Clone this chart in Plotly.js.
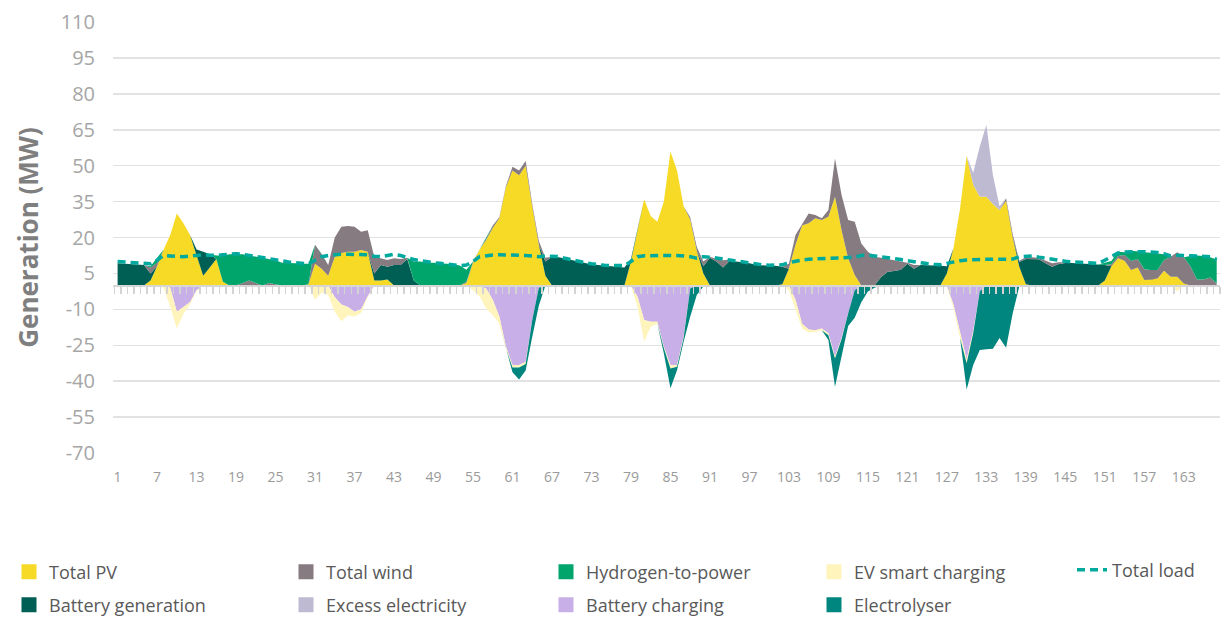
<!DOCTYPE html>
<html><head><meta charset="utf-8">
<script src="https://cdn.plot.ly/plotly-3.0.1.min.js"></script>
<style>html,body{margin:0;padding:0;background:#fff}#chart{width:1225px;height:618px}</style>
</head><body><div id="chart"></div>
<script>
// hour categories 1..168
const hours = [];
for (let i = 1; i <= 168; i++) hours.push(i);

// y-axis tick labels (plain hyphen minus as in the reference)
const yTickVals = [110, 95, 80, 65, 50, 35, 20, 5, -10, -25, -40, -55, -70];
const yTickText = ['110','95','80','65','50','35','20','5','-10','-25','-40','-55','-70'];

// Positive generation (MW), one row per day of 24 hours
const totalPV = [
 0,0,0,0,0,2,8,15,21,30,26,21,12,4,7.5,11,1.5,0,0,0,0,0,0,0,
 0,0,0,0,0,0.5,9,7,4,12,13.5,14,14,14.8,14,2,2,2.5,0,0,0,0,0,0,
 0,0,0,0,0,1,9.5,15,19,24,28,41,48,46,50,33,17,4,0,0,0,0,0,0,
 0,0,0,0,0,0,10,23,36,29,26.6,35,55.8,48,33,27.5,14.5,5,0,0,0,0,0,0,
 0,0,0,0,0,0.5,7,17,25,26,28,27.3,28.7,37,23,11.3,4.3,0,0,0,0,0,0,0,
 0,0,0,0,0,0,5,15.5,32,54,42,37,37,34,31.5,35.4,20,7.8,0.5,0,0,0,0,0,
 0,0,0,0,0,0,2,8,11.3,10.3,6.4,7.5,2.2,2.5,2.9,6.1,3.6,3.6,0.8,0,0,0,0,0
];
const batteryGen = [
 9.2,9,9,8.7,8.5,3,0,0,0,0,0,0,3,10,5.5,0,0,0,0,0,0,0,0,0,
 0,0,0,0,0,0,0,0,0,0,0,0,0,0,0,3,6.5,5.3,8.5,8.5,11,2,0,0,
 0,0,0,0,0,0,0,0,0,0,0,0,0,0,0,0,0,6,12,11.8,11.3,10.6,9.9,9.2,
 8.8,8.5,8.2,8,7.8,7.5,1,0,0,0,0,0,0,0,0,0,0,3,11.5,10,7.5,10.3,10,9.7,
 9.2,8.6,8.3,8.2,8.2,7.3,0,0,0,0,0,0,0,0,0,0,0,0,0,0,3.5,5.7,6,6.5,
 9,7,8.5,8.5,8.4,8.2,3,0,0,0,0,0,0,0,0,0,0,2,10.5,11,10.9,9.2,7.8,8.9,
 9.4,9.3,9.2,9,8.8,8.7,6.5,0,0,0,0,0,0,0,0,0,0,0,0,0,0,0,0,0
];
const totalWind = [
 0,0,0,0,0,2.5,1.5,0,0,0,0,0,0,0,0,0,0,0,0,1,2,1,0,1,
 0.5,0,0,0,0,0,8,6,4.5,8,11,10.8,10.5,7.6,9,7,2.8,2.8,2.8,2.5,0.5,0,0,0,
 0,0,0,0,0,0.5,0.5,0,0.5,1,0.5,0.5,1.5,2,2,1,1.5,1.5,0,0,0,0,0,0,
 0,0,0,0,0,0,0,0,0,0,0,0,0,0,0,1,1.5,2,0.5,1,3,0.5,0,0,
 0,0,0,0,0,0,2,4,0.8,4,1.4,0.7,2.8,16,14.7,16,22.3,17.5,14,12,8,5.4,4.5,3.5,
 0.5,1.5,0,0,0,0,0,0,0,0,0,0,0,0,0,1,1.5,0.5,0.7,0.8,0.5,1.1,1.4,0.8,
 0.3,0,0,0,0,0,0,0.8,1,2.4,3.8,3.5,4.5,3.9,3.5,4.5,8.4,10.2,10.9,8,2.5,2.5,3.3,0.8
];
const hydrogenToPower = [
 0,0,0,0,0,0.5,2,0,0,0,0,0,0,0,0,1.5,11,13,13,12,10.5,11,11.5,10,
 10,9.5,9.5,9.2,9,8.5,0,0,0,0,0,0,0,0,0,0,0,0,0,0,0,8,10,9.5,
 9.5,9.3,9.2,8.8,8.3,5,0,0,0,0,0,0,0,0,0,0,0,0,0,0,0,0,0,0,
 0,0,0,0,0,0,0,0,0,0,0,0,0,0,0,0,0,0,0,0,0,0,0,0,
 0,0,0,0,0,0,0,0,0,0,0,0,0,0,0,0,0,0,0,0,0,0,0,0,
 0,0,0,0,0,0,0,0,0,0,0,0,0,0,0,0,0,0,0,0,0,0,0,0,
 0,0,0,0,0,0,1,1.4,1.7,1.1,4.3,3.2,7.2,7.4,7,2.4,0,0,0,4.3,10,9.8,8.4,10
];
const excessElectricity = [
 0,0,0,0,0,0,0,0,0,0,0,0,0,0,0,0,0,0,0,0,0,0,0,0,
 0,0,0,0,0,0,0,0,0,0,0,0,0,0,0,0,0,0,0,0,0,0,0,0,
 0,0,0,0,0,0,0,0,0,0,0,0,0,0,0,0,0,0,0,0,0,0,0,0,
 0,0,0,0,0,0,0,0,0,0,0,0,0,0,0,0,0,0,0,0,0,0,0,0,
 0,0,0,0,0,0,0,0,0,0,0,0,0,0,0,0,0,0,0,0,0,0,0,0,
 0,0,0,0,0,0,0,0,0,0,5,21,30,12,1.5,0,0,0,0,0,0,0,0,0,
 0,0,0,0,0,0,0,0,0,0,0,0,0,0,0,0,0,0,0,0,0,0,0,0
];
// Consumption (negative MW)
const batteryCharging = [
 0,0,0,0,0,0,0,0,-1,-11,-9,-7,-2,0,0,0,0,0,0,0,0,0,0,0,
 0,0,0,0,0,0,0,0,0,-5,-8,-9,-11,-10,-4.5,0,0,0,0,0,0,0,0,0,
 0,0,0,0,0,0,0,0,-1.3,-6,-13,-25.5,-33.3,-33.3,-32,-14.5,-1,0,0,0,0,0,0,0,
 0,0,0,0,0,0,0,-4.7,-14.5,-15.2,-15.2,-25.6,-33.3,-33.3,-21.4,-1.3,0,0,0,0,0,0,0,0,
 0,0,0,0,0,0,0,-6,-16,-18.4,-18.7,-18,-20,-29.8,-22,-11.7,-2,0,0,0,0,0,0,0,
 0,0,0,0,0,0,0,-8,-20,-31,-19,-2.5,0,0,0,0,0,0,0,0,0,0,0,0,
 0,0,0,0,0,0,0,0,0,0,0,0,0,0,0,0,0,0,0,0,0,0,0,0
];
const evSmartCharging = [
 0,0,0,0,0,0,0,-1,-8,-7,-3,-1,-0.5,0,0,0,0,0,0,0,0,0,0,0,
 0,0,0,0,0,0,-6,-3,-4,-6,-7,-3.5,-2,-1.5,-0.5,0,0,0,0,0,0,0,0,0,
 0,0,0,0,0,0,-2,-4.5,-8.3,-6.4,-3,-0.8,-1,-1,-0.8,0,0,0,0,0,0,0,0,0,
 0,0,0,0,0,0,-0.5,-4.2,-9,-2.1,-0.8,-0.7,-1.4,-0.7,-0.6,0,0,0,0,0,0,0,0,0,
 0,0,0,0,0,0,-2,-4,-2,-1.2,-0.8,-0.7,-0.8,-0.7,-0.5,0,0,0,0,0,0,0,0,0,
 0,0,0,0,0,0,-0.5,-1.5,-2,-1.5,-1,0,0,0,0,0,0,0,0,0,0,0,0,0,
 0,0,0,0,0,0,0,0,0,0,0,0,0,0,0,0,0,-2.5,0,0,0,0,0,0
];
const electrolyser = [
 0,0,0,0,0,0,0,0,0,0,0,0,0,0,0,0,0,0,0,0,0,0,0,0,
 0,0,0,0,0,0,0,0,0,0,0,0,0,0,0,0,0,0,0,0,0,0,0,0,
 0,0,0,0,0,0,0,0,0,0,0,0,-2,-5,-2.7,-7,-7.5,0,0,0,0,0,0,0,
 0,0,0,0,0,0,0,0,0,0,0,-2.1,-8.3,-1.4,-1.5,-11.8,-4,-0.5,0,0,0,0,0,0,
 0,0,0,0,0,0,0,0,0,0,0,0,-2,-11.8,-7.3,-5.3,-11.5,-7,-2.6,-1,0,0,0,0,
 0,0,0,0,0,0,0,0,0,-11,-13.3,-24.5,-26.7,-26.5,-22,-26,-11.7,-0.5,0,0,0,0,0,0,
 0,0,0,0,0,0,0,0,0,0,0,0,0,0,0,0,0,0,0,0,0,0,0,0
];
const totalLoad = [
 10,9.8,9.6,9.4,9.3,9,10.5,12.5,12.3,12,12,12.2,12.6,12.8,12.6,12.5,12.8,13,13.2,13,12.5,12,11.5,11,
 10.5,10.2,9.8,9.5,9.2,9,10.5,12,12.5,12.8,13,13,13,13,12.8,12.2,12,12.5,13,12.5,11.5,10.8,10.3,9.8,
 9.5,9.2,9,8.7,8.3,8.5,10,12,12.5,12.7,12.8,12.8,12.8,12.7,12.5,12.3,12,12.3,12.3,12,11.3,10.6,10,9.5,
 9,8.6,8.4,8.3,8.2,8.3,10,12,12.4,12.5,12.5,12.5,12.5,12.5,12.3,12,11.4,12,11.8,11.5,11.2,10.6,10.2,9.8,
 9.2,8.8,8.6,8.4,8.4,8.6,9.5,10.2,10.6,10.9,11,11,11.2,11.3,11.3,11.4,11.8,12.5,12.7,12.3,12,11.7,11.2,10.8,
 10.3,9.8,9.4,9.1,8.8,8.6,9.2,9.9,10.3,10.6,10.8,10.9,10.9,10.9,10.9,10.9,11,12,12.2,12.3,11.8,11.3,10.8,10.5,
 10.1,9.8,9.6,9.5,9.3,9.2,10.5,12,13.5,13.9,14.1,14.1,14.1,14,13.7,13.2,12.3,12.6,12.5,12.1,12,12.2,12,10.8
];

const colors = {
  'Total PV':'#f6da26','Battery generation':'#005f55','Total wind':'#867b81',
  'Hydrogen-to-power':'#00a56c','Excess electricity':'#bdbad2','Battery charging':'#c9afe8',
  'EV smart charging':'#fff4bc','Electrolyser':'#00867f','Total load':'#00a99d'
};
const FONT = '"Open Sans", "Liberation Sans", sans-serif';

function area(name, vals, group) {
  return {x: hours, y: vals, name: name, type: 'scatter', mode: 'lines',
    stackgroup: group, line: {width: 0, shape: 'linear'}, fillcolor: colors[name],
    showlegend: false, hoverinfo: 'skip'};
}
const traces = [
  area('Total PV', totalPV, 'pos'),
  area('Battery generation', batteryGen, 'pos'),
  area('Total wind', totalWind, 'pos'),
  area('Hydrogen-to-power', hydrogenToPower, 'pos'),
  area('Excess electricity', excessElectricity, 'pos'),
  area('Battery charging', batteryCharging, 'neg'),
  area('EV smart charging', evSmartCharging, 'neg'),
  area('Electrolyser', electrolyser, 'neg'),
  {x: hours, y: totalLoad, name: 'Total load', type: 'scatter', mode: 'lines', xaxis: 'x2',
   line: {color: colors['Total load'], width: 3.5, dash: '8px,5px'}, legend: 'legend9',
   showlegend: true, hoverinfo: 'skip'}
];

// legend entries: [name, column x px, row]
const legendOrder = [
  ['Total PV', 25, 0], ['Total wind', 302, 0], ['Hydrogen-to-power', 562, 0], ['EV smart charging', 830, 0],
  ['Battery generation', 25, 1], ['Excess electricity', 302, 1], ['Battery charging', 562, 1], ['Electrolyser', 830, 1]
];
const rowY = [572, 605];

// plot area in pixels (for placing legends in paper coordinates)
const PL = 113, PW = 1107, PB = 453, PH = 431;
const px2x = p => (p - PL) / PW;
const px2y = p => (PB - p) / PH;

const layout = {
  width: 1225, height: 618,
  margin: {l: 113, r: 5, t: 22, b: 165, autoexpand: false},
  paper_bgcolor: '#ffffff', plot_bgcolor: '#ffffff',
  font: {family: FONT, color: '#999999'},
  hovermode: false,
  xaxis: {
    range: [0.3, 168.5], tick0: 1, dtick: 6, tickmode: 'linear', automargin: false,
    showline: false, ticks: '', showgrid: false, zeroline: false,
    ticklabelstandoff: 14,
    tickfont: {size: 14, color: '#9a9a9a', family: FONT}
  },
  xaxis2: {
    overlaying: 'x', matches: 'x', anchor: 'free', position: 70 / 180, automargin: false,
    showline: true, linecolor: '#d6d6d6', linewidth: 1.5, showticklabels: false,
    ticks: '', showgrid: false, zeroline: false,
    minor: {tick0: 0.5, dtick: 1, ticks: 'outside', ticklen: 7, tickcolor: '#d3d3d3', tickwidth: 1.5, showgrid: false}
  },
  yaxis: {
    range: [-70, 110], tickmode: 'array', tickvals: yTickVals, ticktext: yTickText, automargin: false,
    showgrid: true, gridcolor: '#e2e2e2', gridwidth: 1.5, zeroline: false,
    showline: true, linecolor: 'rgba(0,0,0,0)', linewidth: 14,
    ticks: '',
    tickfont: {size: 20, color: '#a6a6a6', family: FONT},
    title: {text: 'Generation (MW)',
            font: {size: 26, color: '#7f7f7f', family: FONT, weight: 'bold'}}
  }
};

legendOrder.forEach((e, i) => {
  const key = i === 0 ? 'legend' : 'legend' + (i + 1);
  traces.push({x: [null], y: [null], name: e[0], type: 'scatter', mode: 'markers',
    marker: {symbol: 'square', size: 15, color: colors[e[0]]},
    legend: key, showlegend: true, hoverinfo: 'skip'});
  layout[key] = {x: px2x(e[1] - 16), xref: 'paper', xanchor: 'left',
    y: px2y(rowY[e[2]]), yref: 'paper', yanchor: 'middle',
    bgcolor: 'rgba(0,0,0,0)', font: {size: 18, color: '#595959', family: FONT}, itemclick: false};
});
layout.legend9 = {x: px2x(1082 - 10), xref: 'paper', xanchor: 'left',
  y: px2y(570), yref: 'paper', yanchor: 'middle',
  bgcolor: 'rgba(0,0,0,0)', font: {size: 18, color: '#595959', family: FONT}, itemclick: false};

Plotly.newPlot('chart', traces, layout, {displayModeBar: false, staticPlot: true});
</script></body></html>
